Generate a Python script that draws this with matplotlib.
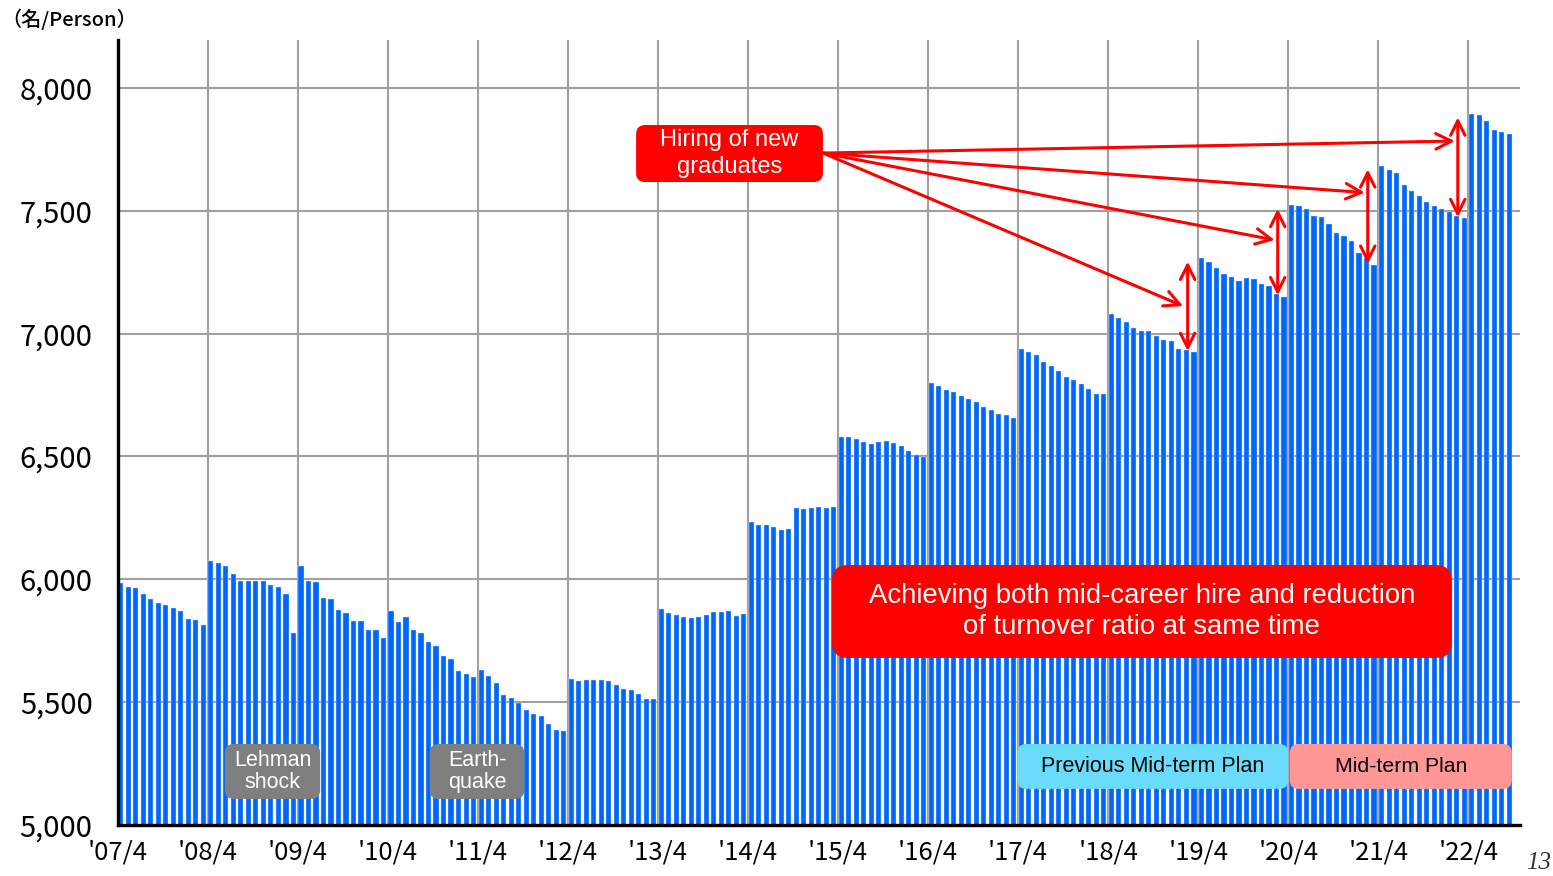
import numpy as np
import matplotlib
matplotlib.use("Agg")
import matplotlib.pyplot as plt
from matplotlib.patches import FancyBboxPatch

# monthly headcount, fiscal years start in April
fy07 = [5985, 5970, 5965, 5940, 5918, 5902, 5895, 5885, 5870, 5840, 5836, 5815]
fy08 = [6076, 6068, 6055, 6023, 5995, 5995, 5995, 5995, 5977, 5969, 5939, 5783]
fy09 = [6055, 5993, 5988, 5923, 5918, 5874, 5862, 5829, 5832, 5794, 5794, 5762]
fy10 = [5872, 5826, 5848, 5793, 5781, 5743, 5727, 5689, 5677, 5628, 5614, 5603]
fy11 = [5632, 5606, 5577, 5531, 5519, 5497, 5470, 5453, 5445, 5410, 5386, 5382]
fy12 = [5595, 5587, 5591, 5591, 5591, 5587, 5568, 5553, 5549, 5535, 5512, 5512]
fy13 = [5878, 5862, 5854, 5846, 5842, 5846, 5854, 5866, 5866, 5870, 5850, 5858]
fy14 = [6234, 6221, 6221, 6213, 6201, 6205, 6292, 6288, 6292, 6296, 6292, 6296]
fy15 = [6579, 6579, 6570, 6558, 6549, 6558, 6562, 6554, 6541, 6523, 6507, 6496]
fy16 = [6800, 6786, 6770, 6761, 6745, 6733, 6720, 6703, 6690, 6673, 6670, 6658]
fy17 = [6936, 6924, 6915, 6886, 6869, 6849, 6823, 6810, 6794, 6774, 6753, 6753]
fy18 = [7081, 7065, 7049, 7023, 7011, 7011, 6989, 6973, 6970, 6939, 6932, 6924]
fy19 = [7308, 7292, 7268, 7242, 7230, 7213, 7225, 7221, 7201, 7193, 7163, 7151]
fy20 = [7523, 7519, 7507, 7477, 7473, 7448, 7410, 7398, 7378, 7328, 7307, 7279]
fy21 = [7684, 7664, 7652, 7606, 7581, 7560, 7535, 7519, 7507, 7496, 7477, 7469]
fy22 = [7895, 7891, 7866, 7828, 7820, 7812]

years = [fy07, fy08, fy09, fy10, fy11, fy12, fy13, fy14, fy15, fy16,
         fy17, fy18, fy19, fy20, fy21, fy22]
staff = [v for y in years for v in y]

xlabels = ["'07/4", "'08/4", "'09/4", "'10/4", "'11/4", "'12/4", "'13/4", "'14/4",
           "'15/4", "'16/4", "'17/4", "'18/4", "'19/4", "'20/4", "'21/4", "'22/4"]
yticks = [5000, 5500, 6000, 6500, 7000, 7500, 8000]

# April jumps marked with double arrows (fiscal years 19..22)
jump_years = [12, 13, 14, 15]
# where the arrows from the "hiring" box end (month index, persons)
arrow_tips = [(142.0, 7112), (154.2, 7381), (166.2, 7574), (178.2, 7784)]

blue = "#0066ff"
red = "#ff0000"
jp = ["Noto Sans CJK JP", "DejaVu Sans"]
latin = ["Liberation Sans", "DejaVu Sans"]

fig = plt.figure(figsize=(15.53, 8.76), dpi=100)
ax = fig.add_axes([0.0757, 0.0582, 0.9031, 0.8961])

x = np.arange(len(staff))
ax.bar(x + 0.1, staff, width=0.68, align="edge", color=blue,
       edgecolor="#cfe0ff", linewidth=0.3, zorder=2)

ax.set_xlim(0, 186.9)
ax.set_ylim(5000, 8195)

ax.set_xticks(np.arange(len(xlabels)) * 12)
ax.set_xticklabels(xlabels, fontsize=18.5, family=jp)
ax.set_yticks(yticks)
ax.set_yticklabels([f"{v:,}" for v in yticks], fontsize=21, family=jp)
ax.tick_params(axis="both", length=0)
ax.tick_params(axis="x", pad=10.5)
ax.tick_params(axis="y", pad=18)

for k in range(1, len(xlabels)):
    ax.axvline(k * 12, color="#a0a0a0", lw=1.5, zorder=0)
for v in yticks[1:]:
    ax.axhline(v, color="#a0a0a0", lw=1.5, zorder=0)

for s in ["top", "right"]:
    ax.spines[s].set_visible(False)
for s in ["left", "bottom"]:
    ax.spines[s].set_linewidth(2.4)
    ax.spines[s].set_color("black")
    ax.spines[s].set_zorder(5)

# pixel size of one data unit, for round corners
p0 = ax.transData.transform((0, 5000))
p1 = ax.transData.transform((1, 5001))
sx, sy = p1[0] - p0[0], p1[1] - p0[1]


def rbox(x0, x1, y0, y1, color, r_px, text, fs, tcolor="white", ls=1.2):
    box = FancyBboxPatch((x0, y0), x1 - x0, y1 - y0,
                         boxstyle=f"round,pad=0,rounding_size={r_px / sx}",
                         mutation_aspect=sx / sy, facecolor=color,
                         edgecolor="none", zorder=6)
    ax.add_patch(box)
    ax.text((x0 + x1) / 2, (y0 + y1) / 2, text, color=tcolor, fontsize=fs,
            family=latin, ha="center", va="center", linespacing=ls, zorder=7)


rbox(69.1, 94.0, 7617, 7849, red, 9, "Hiring of new\ngraduates", 17, ls=1.32)
rbox(95.2, 177.8, 5680, 6058, red, 16,
     "Achieving both mid-career hire and reduction\nof turnover ratio at same time",
     19.8, ls=1.22)
rbox(14.3, 27.0, 5106, 5330, "#7f7f7f", 9, "Lehman\nshock", 15.5, ls=1.05)
rbox(41.6, 54.2, 5106, 5330, "#7f7f7f", 9, "Earth-\nquake", 15.5, ls=1.05)
rbox(119.9, 156.0, 5147, 5330, "#6adbf8", 9, "Previous Mid-term Plan", 15.5, "black")
rbox(156.2, 185.8, 5147, 5330, "#ff9797", 9, "Mid-term Plan", 15.3, "black")

# arrows from the hiring box to each April jump
start = (94.0, 7735)
for tip in arrow_tips:
    ax.annotate("", xy=tip, xytext=start, zorder=8,
                arrowprops=dict(arrowstyle="->", color=red, lw=2.2,
                                mutation_scale=28, shrinkA=0, shrinkB=0))

for j in jump_years:
    i = j * 12
    ax.annotate("", xy=(i - 1.4, staff[i] - 15), xytext=(i - 1.4, staff[i - 1] + 5),
                zorder=8,
                arrowprops=dict(arrowstyle="<->", color=red, lw=2.2,
                                mutation_scale=26, shrinkA=0, shrinkB=0))

fig.text(0.001, 0.978, "（名/Person）", fontsize=14.5, family=jp, va="center",
         weight="medium")
fig.text(0.983, 0.002, "13", fontsize=18, family=["Liberation Serif", "DejaVu Serif"],
         fontstyle="italic", va="bottom", color="#333333")

fig.savefig("out.png", dpi=100)
